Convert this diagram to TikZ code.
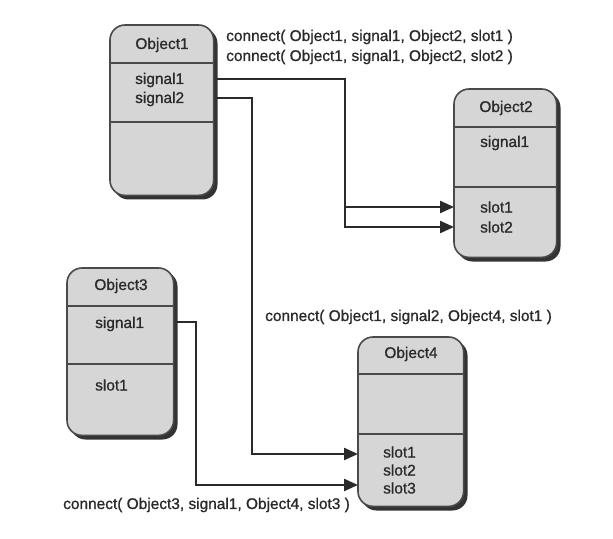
\documentclass[tikz,border=0pt]{standalone}
\usepackage{fontspec}
\setmainfont{Liberation Sans}
\newfontfamily\lblfont{Liberation Sans}[FakeBold=0.9]
\usetikzlibrary{arrows.meta}
\definecolor{boxfill}{HTML}{D6D6D6}
\definecolor{boxline}{HTML}{4A4A4A}
\definecolor{shadowc}{HTML}{333333}
\definecolor{wirec}{HTML}{2A2A2A}
\definecolor{txt}{HTML}{2A2A2A}
\tikzset{
  objbox/.style={draw=boxline, line width=1.6bp, fill=boxfill, rounded corners=15bp,
     inner sep=0pt, outer sep=0pt, anchor=north west},
  objshadow/.style={fill=shadowc, rounded corners=15bp, draw=none},
  divider/.style={draw=boxline, line width=1.3bp},
  lbl/.style={font=\lblfont\fontsize{15.5}{18}\selectfont, text=txt, inner sep=0pt},
  item/.style={lbl, anchor=west},
  title/.style={lbl, anchor=center},
  wire/.style={draw=wirec, line width=2.3bp, line join=miter},
  arr/.style={wire, -{Triangle[length=14bp,width=12bp]}},
}
\newcommand{\objbox}[6]{% name, x1, y1, x2, y2
  \fill[objshadow] (#2+3.5,#3+3.5) rectangle (#4+3.5,#5+3.5);
  \node[objbox, minimum width=#4-#2, minimum height=#5-#3] (#1) at (#2,#3) {};
}
\begin{document}
\begin{tikzpicture}[x=1bp,y=-1bp]
\useasboundingbox (0,0) rectangle (613,539);
\fill[white] (0,0) rectangle (613,539);

% Object1
\objbox{o1}{110}{25}{214}{196}{}
\draw[divider] (o1.west |- 0,63) -- (o1.east |- 0,63);
\draw[divider] (o1.west |- 0,122) -- (o1.east |- 0,122);
\node[title] (o1t) at (162,45) {Object1};
\node[item] (o1s1) at (135,80) {signal1};
\node[item] (o1s2) at (135,99) {signal2};

% Object2
\objbox{o2}{454}{89}{557}{258}{}
\draw[divider] (o2.west |- 0,127) -- (o2.east |- 0,127);
\draw[divider] (o2.west |- 0,187) -- (o2.east |- 0,187);
\node[title] (o2t) at (506,108) {Object2};
\node[item] (o2s1) at (480,143) {signal1};
\node[item] (o2l1) at (480,207) {slot1};
\node[item] (o2l2) at (480,227) {slot2};

% Object3
\objbox{o3}{67}{268}{174}{436}{}
\draw[divider] (o3.west |- 0,306) -- (o3.east |- 0,306);
\draw[divider] (o3.west |- 0,364) -- (o3.east |- 0,364);
\node[title] (o3t) at (121,286) {Object3};
\node[item] (o3s1) at (95,324) {signal1};
\node[item] (o3l1) at (95,385) {slot1};

% Object4
\objbox{o4}{358}{337}{464}{507}{}
\draw[divider] (o4.west |- 0,374) -- (o4.east |- 0,374);
\draw[divider] (o4.west |- 0,434) -- (o4.east |- 0,434);
\node[title] (o4t) at (411,354) {Object4};
\node[item] (o4l1) at (383,452) {slot1};
\node[item] (o4l2) at (383,470) {slot2};
\node[item] (o4l3) at (383,488) {slot3};

% junction coordinates
\coordinate (j1) at (345,79);
\coordinate (j2) at (252,98);
\coordinate (j3) at (196,322);

% connectors
\draw[arr] (j1 -| o1.east) ++(3.5,0) -- (j1) -- (j1 |- 0,207) -- (o2.west |- 0,207);
\draw[arr] (j1 |- 0,205) -- (j1 |- 0,227) -- (o2.west |- 0,227);
\draw[arr] (j2 -| o1.east) ++(3.5,0) -- (j2) -- (j2 |- 0,454) -- (o4.west |- 0,454);
\draw[arr] (j3 -| o3.east) ++(3.5,0) -- (j3) -- (j3 |- 0,485) -- (o4.west |- 0,485);

% labels
\node[item] (c1) at (226,37) {connect( Object1, signal1, Object2, slot1 )};
\node[item] (c2) at (226,57) {connect( Object1, signal1, Object2, slot2 )};
\node[item] (c3) at (265,317) {connect( Object1, signal2, Object4, slot1 )};
\node[item] (c4) at (63,505) {connect( Object3, signal1, Object4, slot3 )};
\end{tikzpicture}
\end{document}
